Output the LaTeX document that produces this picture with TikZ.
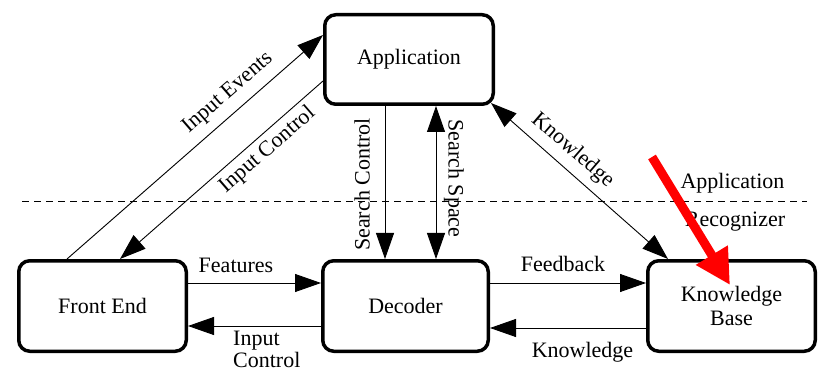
\documentclass[tikz,border=0pt]{standalone}
\usepackage{fontspec}
\setmainfont{Liberation Serif}
\usetikzlibrary{arrows.meta}
\newcommand{\diafont}{\fontsize{22}{24}\selectfont}
\newcommand{\diafonttight}{\fontsize{22}{21.5}\selectfont}
\begin{document}
\begin{tikzpicture}[x=1pt,y=-1pt,
  box/.style={draw, line width=3.5pt, rounded corners=11pt, align=center, font=\diafont, inner sep=0},
  lbl/.style={font=\diafont, inner sep=0},
  arr/.style={line width=0.9pt, -{Triangle[length=26pt,width=18pt]}},
  darr/.style={line width=0.9pt, {Triangle[length=26pt,width=18pt]}-{Triangle[length=26pt,width=18pt]}},
  sep/.style={line width=0.9pt, dash pattern=on 7pt off 5pt},
  pointer/.style={line width=9pt, red, -{Triangle[length=35pt,width=35pt]}}
]
\useasboundingbox (0,0) rectangle (821,371);

% boxes
\node[box, minimum width=168.5pt, minimum height=89.5pt] (App) at (409,59.5) {Application};
\node[box, minimum width=167.5pt, minimum height=90.5pt] (FE) at (102.5,306) {Front End};
\node[box, minimum width=165.5pt, minimum height=90.5pt] (Dec) at (405.5,306) {Decoder};
\node[box, minimum width=167.5pt, minimum height=90.5pt] (KB) at (731.5,306) {Knowledge\\Base};

% dashed separator
\coordinate (dl) at (22,201);
\coordinate (dr) at (807,201);
\draw[sep] (dl) -- (dr);

% helper coordinates
\coordinate (sc) at ([xshift=-24pt]App.south);
\coordinate (ss) at ([xshift=27pt]App.south);
\coordinate (fa) at ([yshift=23pt]FE.east);
\coordinate (ica) at ([yshift=-20pt]Dec.west);
\coordinate (fba) at ([yshift=23pt]Dec.east);
\coordinate (kna) at ([yshift=-22pt]KB.west);

% connectors
\draw[arr] ([xshift=-35.5pt]FE.north) -- ([yshift=24.5pt]App.west);
\draw[arr] ([yshift=-21.5pt]App.west) -- ([xshift=17.5pt]FE.north);
\draw[arr] (sc) -- (sc |- Dec.north);
\draw[darr] (ss) -- (ss |- Dec.north);
\draw[darr] ([xshift=-4pt,yshift=3pt]App.south east) -- ([xshift=-63.5pt]KB.north);
\draw[arr] (fa) -- (fa -| Dec.west);
\draw[arr] (ica) -- (ica -| FE.east);
\draw[arr] (fba) -- (fba -| KB.west);
\draw[arr] (kna) -- (kna -| Dec.east);

% labels
\node[lbl, rotate=40.9] (lIE) at (228,93) {Input Events};
\node[lbl, rotate=40.9] (lIC) at (267.5,150) {Input Control};
\node[lbl, rotate=-40.9] (lKn) at (572.5,150.5) {Knowledge};
\node[lbl, rotate=90] (lSC) at (362,184.5) {Search Control};
\node[lbl, rotate=-90] (lSS) at (454,178.5) {Search Space};
\node[lbl, anchor=base] (lFe) at (236,272) {Features};
\node[lbl, font=\diafonttight, anchor=north west, align=left] (lIC2) at (233,331) {Input\\Control};
\node[lbl, anchor=base] (lFb) at (563,271) {Feedback};
\node[lbl, anchor=base] (lKn2) at (582.5,357) {Knowledge};
\node[lbl, anchor=base] (lAp) at (732.5,188.5) {Application};
\node[lbl, anchor=base] (lRe) at (735,226.5) {Recognizer};

% red pointer
\coordinate (rs) at (652,157);
\coordinate (re) at (730,285);
\draw[pointer] (rs) -- (re);
\end{tikzpicture}
\end{document}
